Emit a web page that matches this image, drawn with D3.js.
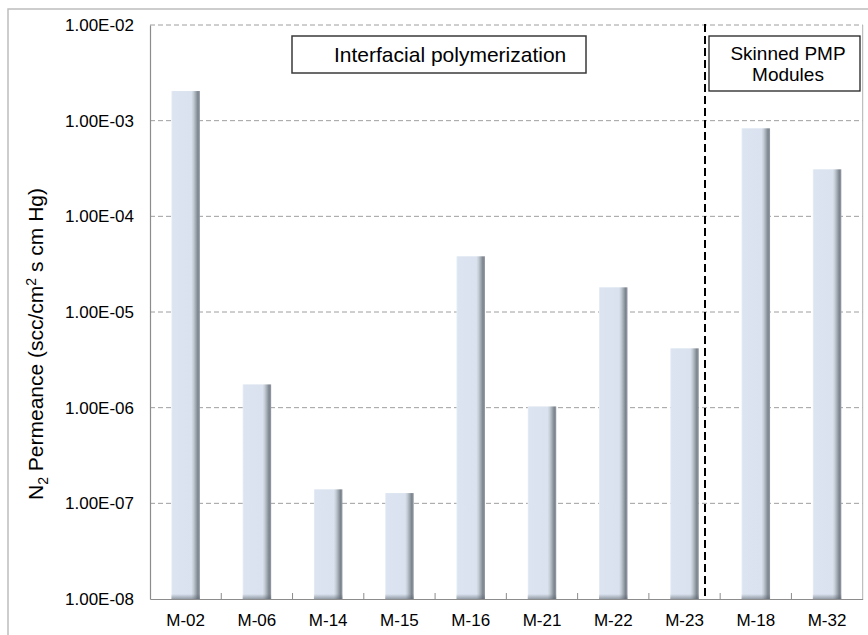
<!DOCTYPE html>
<html>
<head>
<meta charset="utf-8">
<script src="https://cdn.jsdelivr.net/npm/d3@7"></script>
<style>
  html, body { margin: 0; padding: 0; background: #fff; }
  svg { display: block; font-family: "Liberation Sans", Arial, sans-serif; }
</style>
</head>
<body>
<svg id="chart" width="868" height="635"></svg>
<script>
// Membrane modules and their measured N2 permeance (scc/cm² s cm Hg)
const categories = ["M-02", "M-06", "M-14", "M-15", "M-16", "M-21", "M-22", "M-23", "M-18", "M-32"];
const permeance = [2.04e-3, 1.75e-6, 1.40e-7, 1.28e-7, 3.82e-5, 1.03e-6, 1.81e-5, 4.17e-6, 8.32e-4, 3.10e-4];
const yTicks = [1e-8, 1e-7, 1e-6, 1e-5, 1e-4, 1e-3, 1e-2];
const groupLabels = ["Interfacial polymerization", ["Skinned PMP", "Modules"]];

const svg = d3.select("#chart");
const plot = { left: 150, right: 862.7, top: 25, bottom: 599 };

// outer chart frame
svg.append("rect")
  .attr("x", 8).attr("y", 9).attr("width", 900).attr("height", 700)
  .attr("fill", "#fff").attr("stroke", "#bdbdbd").attr("stroke-width", 1.5);

const x = d3.scaleBand().domain(categories).range([plot.left, plot.right]).paddingInner(0).paddingOuter(0);
const y = d3.scaleLog().domain([1e-8, 1e-2]).range([plot.bottom, plot.top]);

const fmt = d => {
  const e = Math.round(Math.log10(d));
  const s = e < 0 ? "-" : "+";
  return "1.00E" + s + String(Math.abs(e)).padStart(2, "0");
};

// bar shading
const defs = svg.append("defs");
const gh = defs.append("linearGradient").attr("id", "barH").attr("x1", "0").attr("x2", "1").attr("y1", "0").attr("y2", "0");
[[0, "#e9eff7"], [0.05, "#dbe4f0"], [0.70, "#d9e2ee"], [0.77, "#c6ced8"], [0.85, "#a2aab4"], [0.93, "#7b838d"], [1, "#959ca5"]]
  .forEach(([o, c]) => gh.append("stop").attr("offset", o).attr("stop-color", c));
const gv = defs.append("linearGradient").attr("id", "barB").attr("x1", "0").attr("x2", "0").attr("y1", "0").attr("y2", "1");
gv.append("stop").attr("offset", 0).attr("stop-color", "#5a646e").attr("stop-opacity", 0);
gv.append("stop").attr("offset", 1).attr("stop-color", "#5a646e").attr("stop-opacity", 0.55);

// horizontal dashed gridlines
svg.append("g")
  .selectAll("line").data(yTicks.filter(d => d > 1e-8)).join("line")
  .attr("x1", plot.left).attr("x2", plot.right)
  .attr("y1", d => y(d)).attr("y2", d => y(d))
  .attr("stroke", "#9e9e9e").attr("stroke-width", 1).attr("stroke-dasharray", "5,3");

// plot right border
svg.append("line")
  .attr("x1", plot.right).attr("x2", plot.right).attr("y1", plot.top).attr("y2", plot.bottom)
  .attr("stroke", "#b0b0b0").attr("stroke-width", 1);

// bars
const bw = x.bandwidth() * 0.4;
const bars = svg.append("g").selectAll("g").data(categories.map((c, i) => ({ c, v: permeance[i] }))).join("g");
bars.append("rect")
  .attr("x", d => x(d.c) + (x.bandwidth() - bw) / 2)
  .attr("y", d => y(d.v))
  .attr("width", bw)
  .attr("height", d => y(1e-8) - y(d.v))
  .attr("fill", "url(#barH)");
bars.append("rect")
  .attr("x", d => x(d.c) + (x.bandwidth() - bw) / 2)
  .attr("y", y(1e-8) - 5)
  .attr("width", bw)
  .attr("height", 5)
  .attr("fill", "url(#barB)");

// y axis
const yAxis = svg.append("g").attr("transform", `translate(${plot.left},0)`)
  .call(d3.axisLeft(y).tickValues(yTicks).tickFormat(fmt).tickSize(0).tickPadding(16));
yAxis.select(".domain").attr("stroke", "#8c8c8c").attr("stroke-width", 1.2);
yAxis.selectAll("text").attr("font-size", 17).attr("fill", "#000")
  .attr("font-family", "'Liberation Sans', Arial, sans-serif");

// x axis with inward tick marks at band boundaries
const xAxis = svg.append("g").attr("transform", `translate(0,${plot.bottom})`)
  .call(d3.axisBottom(x).tickSize(0).tickPadding(15));
xAxis.select(".domain").attr("stroke", "#8c8c8c").attr("stroke-width", 1.2);
xAxis.selectAll("text").attr("font-size", 17).attr("fill", "#000")
  .attr("font-family", "'Liberation Sans', Arial, sans-serif");
svg.append("g").selectAll("line").data(categories.slice(1)).join("line")
  .attr("x1", d => x(d)).attr("x2", d => x(d))
  .attr("y1", plot.bottom - 6).attr("y2", plot.bottom)
  .attr("stroke", "#8c8c8c").attr("stroke-width", 1);

// y axis title
const title = svg.append("text")
  .attr("transform", "translate(43,344) rotate(-90)")
  .attr("text-anchor", "middle")
  .attr("font-size", 21)
  .attr("fill", "#000");
title.append("tspan").text("N");
title.append("tspan").text("2").attr("font-size", 14).attr("dy", 5);
title.append("tspan").text(" Permeance (scc/cm").attr("dy", -5);
title.append("tspan").text("2").attr("font-size", 14).attr("dy", -7);
title.append("tspan").text(" s cm Hg)").attr("dy", 7);

// divider between module groups
svg.append("line")
  .attr("x1", 705).attr("x2", 705).attr("y1", 24).attr("y2", plot.bottom)
  .attr("stroke", "#000").attr("stroke-width", 2).attr("stroke-dasharray", "8,4");

// group label boxes
svg.append("rect").attr("x", 292).attr("y", 36).attr("width", 294).attr("height", 37)
  .attr("fill", "#fff").attr("stroke", "#3a3a3a").attr("stroke-width", 1.5);
svg.append("text").attr("x", 334).attr("y", 62).attr("font-size", 21).attr("fill", "#000")
  .text(groupLabels[0]);

svg.append("rect").attr("x", 709).attr("y", 36).attr("width", 151).attr("height", 55)
  .attr("fill", "#fff").attr("stroke", "#222").attr("stroke-width", 1.3);
svg.append("text").attr("x", 788).attr("y", 60).attr("text-anchor", "middle").attr("font-size", 19)
  .attr("fill", "#000").text(groupLabels[1][0]);
svg.append("text").attr("x", 788).attr("y", 81).attr("text-anchor", "middle").attr("font-size", 19)
  .attr("fill", "#000").text(groupLabels[1][1]);
</script>
</body>
</html>
